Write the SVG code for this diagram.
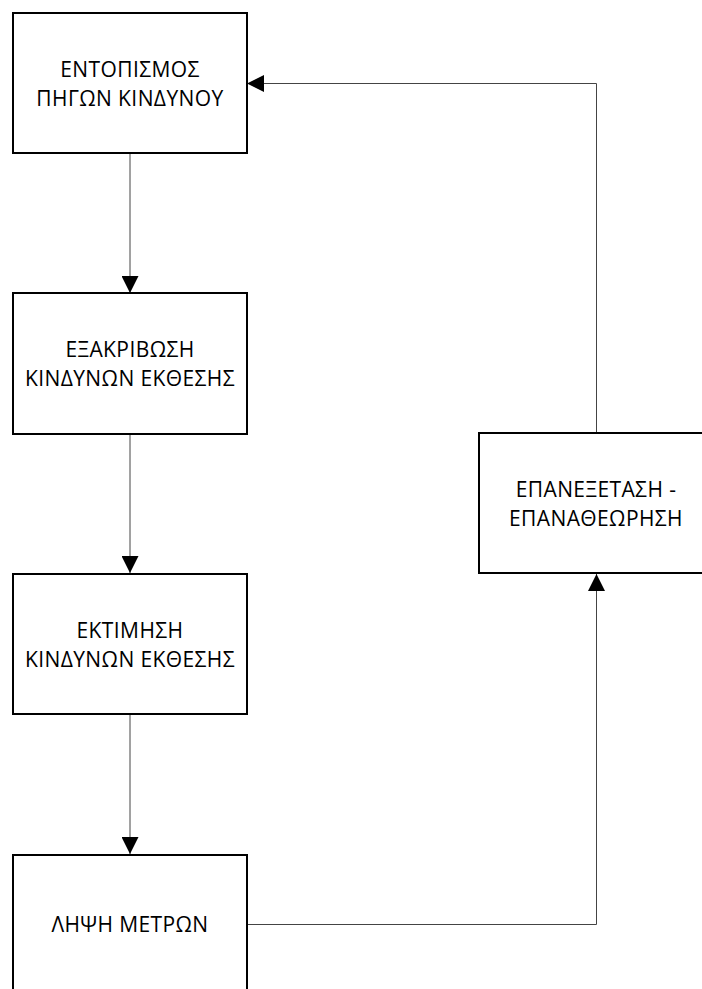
<svg xmlns="http://www.w3.org/2000/svg" width="702" height="989" viewBox="0 0 702 989">
  <style>
    .box { fill: #ffffff; stroke: #000000; stroke-width: 2; }
    .label { font-family: "Open Sans", "Noto Sans", sans-serif; font-size: 21px; letter-spacing: 0.4px; fill: #000000; text-anchor: middle; }
    .wire { fill: none; stroke: #444444; stroke-width: 1; }
  </style>
  <defs>
    <marker id="arrow" viewBox="0 0 17 17" refX="17" refY="8.5" markerWidth="17" markerHeight="17" markerUnits="userSpaceOnUse" orient="auto">
      <path d="M0,0 L17,8.5 L0,17 Z" fill="#000000"/>
    </marker>
  </defs>
  <rect width="702" height="989" fill="#ffffff"/>

  <g id="connectors">
    <line class="wire" x1="130" y1="154" x2="130" y2="293" marker-end="url(#arrow)"/>
    <line class="wire" x1="130" y1="434" x2="130" y2="573" marker-end="url(#arrow)"/>
    <line class="wire" x1="130" y1="714" x2="130" y2="854" marker-end="url(#arrow)"/>
    <polyline class="wire" points="247,924.5 596.5,924.5 596.5,574" marker-end="url(#arrow)"/>
    <polyline class="wire" points="596.5,433 596.5,83.5 247,83.5" marker-end="url(#arrow)"/>
  </g>

  <g id="node-entopismos">
    <rect class="box" x="13" y="13" width="234" height="140"/>
    <text class="label" x="130" y="77">ΕΝΤΟΠΙΣΜΟΣ</text>
    <text class="label" x="130" y="106">ΠΗΓΩΝ ΚΙΝΔΥΝΟΥ</text>
  </g>

  <g id="node-exakrivosi">
    <rect class="box" x="13" y="293" width="234" height="141"/>
    <text class="label" x="130" y="357">ΕΞΑΚΡΙΒΩΣΗ</text>
    <text class="label" x="130" y="386">ΚΙΝΔΥΝΩΝ ΕΚΘΕΣΗΣ</text>
  </g>

  <g id="node-ektimisi">
    <rect class="box" x="13" y="574" width="234" height="140"/>
    <text class="label" x="130" y="638">ΕΚΤΙΜΗΣΗ</text>
    <text class="label" x="130" y="667">ΚΙΝΔΥΝΩΝ ΕΚΘΕΣΗΣ</text>
  </g>

  <g id="node-lipsi">
    <rect class="box" x="13" y="855" width="234" height="140"/>
    <text class="label" x="130" y="932">ΛΗΨΗ ΜΕΤΡΩΝ</text>
  </g>

  <g id="node-epanexetasi">
    <rect class="box" x="479" y="433" width="234" height="140"/>
    <text class="label" x="596" y="497">ΕΠΑΝΕΞΕΤΑΣΗ -</text>
    <text class="label" x="596" y="526">ΕΠΑΝΑΘΕΩΡΗΣΗ</text>
  </g>
</svg>
